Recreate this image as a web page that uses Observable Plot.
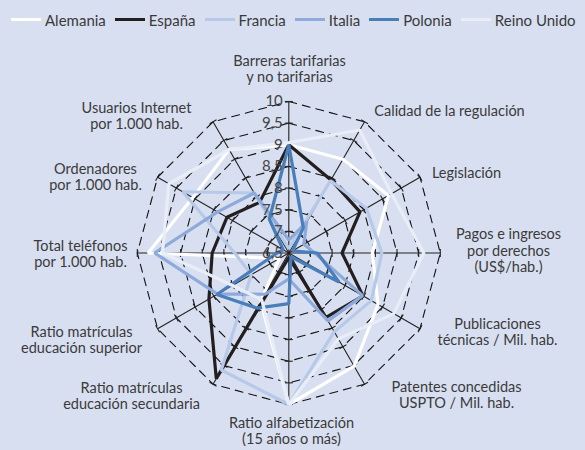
<!DOCTYPE html>
<html><head><meta charset="utf-8">
<script src="https://cdn.jsdelivr.net/npm/d3@7"></script>
<script src="https://cdn.jsdelivr.net/npm/@observablehq/plot@0.6"></script>
<style>
body{margin:0;background:#d8dff0;font-family:Lato,sans-serif;width:585px;height:450px;overflow:hidden}
#legend{height:36px;display:flex;align-items:center;padding-left:11px;padding-top:3px;box-sizing:border-box;gap:9px;font-size:15px;color:#3a3a3a}
.item{display:flex;align-items:center;gap:4px}
.sw{width:30px;height:3px}
</style></head><body>
<div id="legend"></div>
<div id="chart"></div>
<script>
// ---- data ----
const axesLabels = [
  "Barreras tarifarias\ny no tarifarias",
  "Calidad de la regulación",
  "Legislación",
  "Pagos e ingresos\npor derechos\n(US$/hab.)",
  "Publicaciones\ntécnicas / Mil. hab.",
  "Patentes concedidas\nUSPTO / Mil. hab.",
  "Ratio alfabetización\n(15 años o más)",
  "Ratio matrículas\neducación secundaria",
  "Ratio matrículas\neducación superior",
  "Total teléfonos\npor 1.000 hab.",
  "Ordenadores\npor 1.000 hab.",
  "Usuarios Internet\npor 1.000 hab."
];
const seriesNames = ["Alemania","España","Francia","Italia","Polonia","Reino Unido"];
const alemania   = [9.0, 9.0, 9.16, 8.43, 8.88, 9.52, 10.0, 7.8, 6.75, 9.75, 9.06, 9.26];
const espana     = [9.0, 8.45, 8.4, 7.73, 8.48, 8.22, 6.6, 9.85, 8.63, 8.27, 8.15, 7.85];
const francia    = [6.6, 8.43, 8.57, 8.65, 8.7, 8.6, 10.0, 9.62, 7.5, 7.75, 9.33, 8.1];
const italia     = [6.8, 7.33, 6.9, 7.1, 8.47, 8.31, 7.1, 7.6, 8.4, 9.6, 8.4, 8.1];
const polonia    = [9.0, 7.17, 6.6, 7.16, 7.84, 6.6, 7.67, 7.97, 8.42, 6.77, 6.65, 7.4];
const reinoUnido = [9.05, 9.78, 9.24, 9.62, 9.3, 8.79, 10.0, 7.75, 8.0, 9.42, 9.7, 9.26];
const tickValues = [6.5, 7, 7.5, 8, 8.5, 9, 9.5, 10];
const tickLabels = ["6,5","7","7,5","8","8,5","9","9,5","10"];
const gridLevels = [7, 7.5, 8, 8.5, 9, 9.5, 10];

// ---- styles / layout ----
const colors = ["#ffffff","#231f20","#b7c9e8","#8eaadb","#4a7ebb","#e8edf7"];
const W = 585, H = 414, TOP = 36;
const CX = 288.3, CY = 252.5 - TOP, R = 151.5;
const vMin = 6.5, vMax = 10;
// label block centres (page pixels)
const labelPos = [[289,68],[449,110],[466,172],[508,250],[497,331],[456,394],[291,430],[131,395],[81,339],[80,253],[95,176.5],[136,115]];

// legend
const leg = document.getElementById("legend");
seriesNames.forEach((s,i)=>{
  const it=document.createElement("div");it.className="item";
  it.innerHTML=`<span class="sw" style="background:${colors[i]}"></span><span>${s}</span>`;
  leg.appendChild(it);
});

const n = axesLabels.length;
const ang = i => i*2*Math.PI/n;
const u = v => (v - vMin)/(vMax - vMin);
const pt = (i,v) => ({x: u(v)*Math.sin(ang(i)), y: u(v)*Math.cos(ang(i))});

const allSeries = [alemania, espana, francia, italia, polonia, reinoUnido];
const lineRows = [];
allSeries.forEach((vals,k)=>vals.forEach((v,i)=>lineRows.push({series:seriesNames[k], ...pt(i,v)})));

const ringRows = [];
gridLevels.forEach(l=>{for(let i=0;i<n;i++) ringRows.push({level:l, ...pt(i,l)});});

const spokes = d3.range(n).map(i=>({i, ...pt(i,vMax)}));
const h = 4/R;
const tickRows = [];
for (let i=0;i<n;i++) for (const l of tickValues.slice(1)) {
  const p = pt(i,l), px = Math.cos(ang(i)), py = -Math.sin(ang(i));
  tickRows.push({x1:p.x-h*px, y1:p.y-h*py, x2:p.x+h*px, y2:p.y+h*py});
}
const catRows = axesLabels.map((t,i)=>({text:t, x:(labelPos[i][0]-CX)/R, y:(CY-(labelPos[i][1]-TOP))/R}));
const tickTextRows = tickValues.map((v,i)=>({x:0, y:u(v), text:tickLabels[i]}));

const chart = Plot.plot({
  width: W, height: H, margin: 0,
  style: {background:"transparent", fontFamily:"Lato, sans-serif"},
  x: {domain:[-CX/R, (W-CX)/R], range:[0,W], axis:null},
  y: {domain:[(CY-H)/R, CY/R], range:[H,0], axis:null},
  color: {domain: seriesNames, range: colors},
  marks: [
    Plot.line(ringRows, {x:"x", y:"y", z:"level", curve:"linear-closed", stroke:"#111", strokeWidth:1.1, strokeDasharray:"8,6"}),
    Plot.link(spokes, {x1:0, y1:0, x2:"x", y2:"y", stroke:"#222", strokeWidth:1.1}),
    Plot.link(tickRows, {x1:"x1", y1:"y1", x2:"x2", y2:"y2", stroke:"#222", strokeWidth:1.1}),
    Plot.line(lineRows, {x:"x", y:"y", z:"series", stroke:"series", curve:"linear-closed", strokeWidth:3.2, strokeLinejoin:"miter"}),
    Plot.text(tickTextRows, {x:"x", y:"y", text:"text", textAnchor:"end", dx:-6, fontSize:15, fill:"#444"}),
    Plot.text(catRows, {x:"x", y:"y", text:"text", fontSize:14.5, fill:"#3a3a3a", lineHeight:1.12, lineAnchor:"middle"})
  ]
});
document.getElementById("chart").appendChild(chart);
</script>
</body></html>
